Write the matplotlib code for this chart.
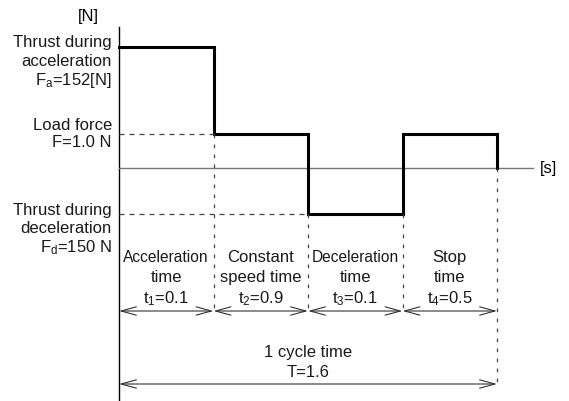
import numpy as np
import matplotlib.pyplot as plt

plt.rcParams['font.family'] = ['Liberation Sans', 'DejaVu Sans']
plt.rcParams['mathtext.fontset'] = 'custom'
plt.rcParams['mathtext.rm'] = 'Liberation Sans'
plt.rcParams['mathtext.it'] = 'Liberation Sans'

# Operating pattern data
phase_names = [["Acceleration", "time"], ["Constant", "speed time"],
               ["Deceleration", "time"], ["Stop", "time"]]
phase_times = [0.1, 0.9, 0.1, 0.5]
force_labels = [["Thrust during", "acceleration", r"F$_\mathrm{a}$=152[N]"],
                ["Load force", "F=1.0 N"],
                ["Thrust during", "deceleration", r"F$_\mathrm{d}$=150 N"]]
cycle_time = 1.6

# schematic levels (not to scale): accel thrust, load force, decel thrust, load force, end
step_level = [1.21, 0.34, -0.46, 0.34, 0.0]

FS = 12


def draw_lines(x, y, lines, step=0.20, ha='center', sizes=None):
    # one text per line, baselines spaced evenly downwards
    for k, s in enumerate(lines):
        fs = sizes[k] if sizes else FS
        ax.text(x, y - k * step, s, ha=ha, va='baseline', fontsize=fs, color='#1a1a1a')


fig = plt.figure(figsize=(5.69, 4.02), dpi=100)
ax = fig.add_axes([0, 0, 1, 1])
ax.set_xlim(-119 / 94.5, 450 / 94.5)
ax.set_ylim(-2.33, 1.69)
ax.axis('off')

n = len(phase_times)
edges = np.arange(n + 1)

# axes
ax.plot([0, 0], [-2.4, 1.41], color='black', lw=1.0)
ax.plot([0, 4.38], [0, 0], color='#777777', lw=1.0)
ax.text(-0.32, 1.52, "[N]", ha='center', va='center', fontsize=FS)
ax.text(4.45, 0, "[s]", ha='left', va='center', fontsize=FS)

# force profile
xs, ys = [0], [step_level[0]]
for i in range(n):
    xs += [edges[i + 1], edges[i + 1]]
    ys += [step_level[i], step_level[i + 1]]
ax.plot(xs, ys, color='black', lw=2.2, solid_joinstyle='miter')

dash = dict(color='#444444', lw=0.9, linestyle=(0, (4, 4)))
ax.plot([0, 1], [step_level[1]] * 2, **dash)
ax.plot([0, 2], [step_level[2]] * 2, **dash)

arrow_y = -1.43
total_y = -2.16
vdash = dict(color='#444444', lw=0.9, linestyle=(0, (3, 5)))
for i in range(1, n + 1):
    top = min(step_level[i - 1], step_level[i])
    bottom = total_y if i == n else arrow_y
    ax.plot([edges[i], edges[i]], [top, bottom], **vdash)

arrow = dict(arrowstyle='<->,head_length=1.1,head_width=0.3', lw=0.8,
             color='#333333', shrinkA=0, shrinkB=0, mutation_scale=10)
for i in range(n):
    ax.annotate("", xy=(edges[i], arrow_y), xytext=(edges[i + 1], arrow_y), arrowprops=arrow)
    lines = phase_names[i] + [r"t$_\mathrm{%d}$=%s" % (i + 1, phase_times[i])]
    first = 11.2 if len(phase_names[i][0]) > 10 else FS
    draw_lines(i + 0.5, -0.93, lines, step=0.205, sizes=[first, FS, FS])

ax.annotate("", xy=(0, total_y), xytext=(n, total_y), arrowprops=arrow)
draw_lines(2.0, -1.88, ["1 cycle time", "T=%s" % cycle_time], step=0.20)

# level labels on the left
lx = -0.075
draw_lines(lx, 1.22, force_labels[0], step=0.19, ha='right')
draw_lines(lx, 0.39, force_labels[1], step=0.17, ha='right')
draw_lines(lx, -0.46, force_labels[2], step=0.185, ha='right')

fig.savefig("out.png", dpi=100)
